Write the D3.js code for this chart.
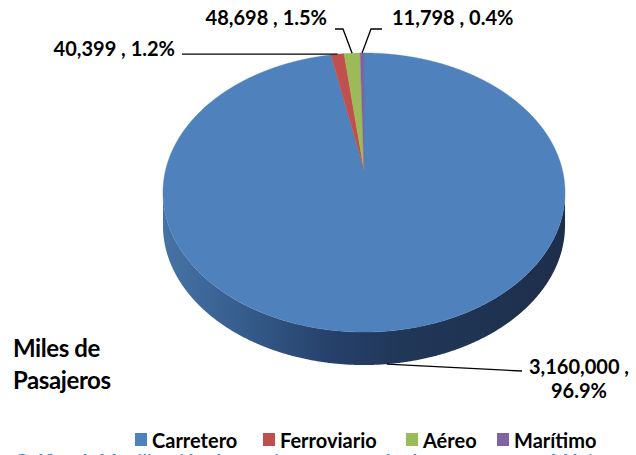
<!DOCTYPE html>
<html>
<head>
<meta charset="utf-8">
<script src="https://cdn.jsdelivr.net/npm/d3@7"></script>
<style>
  body { margin: 0; background: #fff; }
  text { font-family: Lato, "Open Sans", sans-serif; font-weight: 700; fill: #000; }
</style>
</head>
<body>
<svg id="chart" width="636" height="455"></svg>
<script>
// Passenger movement by transport mode (thousands of passengers)
const categories = ["Carretero", "Ferroviario", "Aéreo", "Marítimo"];
const values = [3160000, 40399, 48698, 11798];
const colors = ["#4f81bd", "#c0504d", "#9bbb59", "#8064a2"];
const unitLines = ["Miles de", "Pasajeros"];
const captionText = "Gráfica 1. Movilización de pasajeros por modo de transporte en México";

const svg = d3.select("#chart");

// 3D pie geometry: a tilted disc seen in perspective
const cx = 364, cy = 170;      // projected centre of the top face
const A = 198.4, B = 135.9;    // horizontal / vertical radii before perspective
const k = -0.1613;             // perspective factor (near edge looks larger)
const depth = 33;              // thickness of the disc

function project(a, r = 1) {
  const u = r * Math.sin(a), v = -r * Math.cos(a);
  const den = 1 + k * v;
  return [cx + A * u / den, cy + B * v / den];
}

const total = d3.sum(values);
const arcs = d3.pie().sort(null).value(d => d)(values);
const color = d3.scaleOrdinal().domain(categories).range(colors);

// side wall gradient
const defs = svg.append("defs");
const grad = defs.append("linearGradient")
  .attr("id", "sideGrad").attr("gradientUnits", "userSpaceOnUse")
  .attr("x1", cx - A * 1.013).attr("x2", cx + A * 1.013).attr("y1", 0).attr("y2", 0);
[[0, "#4673a6"], [0.18, "#375f8f"], [0.42, "#26406a"], [0.6, "#213758"], [1, "#1d2e4b"]]
  .forEach(([o, c]) => grad.append("stop").attr("offset", o).attr("stop-color", c));

// visible front range of the wall: between the two horizontal extremes
const aRight = Math.acos(k), aLeft = 2 * Math.PI - Math.acos(k);

function arcPoints(a0, a1) {
  const n = Math.max(2, Math.ceil((a1 - a0) / 0.005));
  return d3.range(n + 1).map(i => project(a0 + (a1 - a0) * i / n));
}

const wallG = svg.append("g");
arcs.forEach((d, i) => {
  const a0 = Math.max(d.startAngle, aRight), a1 = Math.min(d.endAngle, aLeft);
  if (a1 <= a0) return;
  const top = arcPoints(a0, a1);
  const bottom = top.map(([x, y]) => [x, y + depth]).reverse();
  const shade = i === 0 ? "url(#sideGrad)" : d3.color(color(categories[i])).darker(1.2);
  wallG.append("path")
    .attr("d", d3.line()(top.concat(bottom)) + "Z")
    .attr("fill", shade);
});

const topG = svg.append("g");
arcs.forEach((d, i) => {
  const pts = [[cx, cy]].concat(arcPoints(d.startAngle, d.endAngle));
  topG.append("path")
    .attr("d", d3.line()(pts) + "Z")
    .attr("fill", color(categories[i]))
    .attr("stroke", color(categories[i]))
    .attr("stroke-width", 0.4);
});

// data labels with leader lines
const fmtN = d3.format(",");
const fmtP = d3.format(".1%");
const labelLayout = [
  { lines: (v, p) => [fmtN(v) + " ,", p], x: 579, y: 374, anchor: "middle", leader: (p) => [[p[0], p[1] + depth], [522, 371]] },
  { lines: (v, p) => [fmtN(v) + " , " + p], x: 175, y: 56, anchor: "end", leader: (p) => [p, [182, p[1]]] },
  { lines: (v, p) => [fmtN(v) + " , " + p], x: 327, y: 25, anchor: "end", leader: (p) => [p, [343, 29], [335, 29]] },
  { lines: (v, p) => [fmtN(v) + " , " + p], x: 392, y: 25, anchor: "start", leader: (p) => [p, [371, 29], [382, 29]] }
];

const labelG = svg.append("g");
arcs.forEach((d, i) => {
  const L = labelLayout[i];
  const mid = (d.startAngle + d.endAngle) / 2;
  const anchorPt = project(mid);
  labelG.append("path")
    .attr("d", d3.line()(L.leader(anchorPt)))
    .attr("fill", "none").attr("stroke", "#000").attr("stroke-width", 1.3);
  const t = labelG.append("text")
    .attr("x", L.x).attr("y", L.y)
    .attr("text-anchor", L.anchor)
    .style("font-size", "20px");
  L.lines(values[i], fmtP(values[i] / total)).forEach((s, j) => {
    t.append("tspan").attr("x", L.x).attr("dy", j === 0 ? 0 : 24).text(s);
  });
});

// unit note
const unit = svg.append("text").attr("x", 13).attr("y", 357).style("font-size", "24px").style("letter-spacing", "-0.4px");
unitLines.forEach((s, j) => unit.append("tspan").attr("x", 13).attr("dy", j === 0 ? 0 : 32).text(s));

// legend
const legendX = [135, 263, 406, 497];
const legend = svg.append("g");
categories.forEach((c, i) => {
  legend.append("rect").attr("x", legendX[i]).attr("y", 433).attr("width", 12).attr("height", 13).attr("fill", color(c));
  legend.append("text").attr("x", legendX[i] + 17).attr("y", 448).style("font-size", "20px").text(c);
});

// caption running off the bottom edge
svg.append("text").attr("x", 14).attr("y", 468)
  .style("font-size", "19px").style("fill", "#4a86d0")
  .text(captionText);
</script>
</body>
</html>
